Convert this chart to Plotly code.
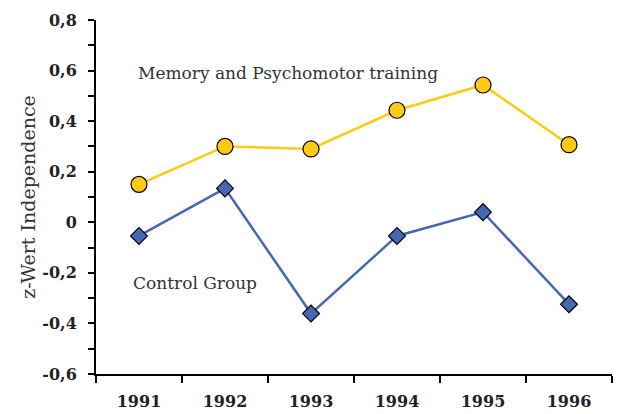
import plotly.graph_objects as go

# Survey years and mean z-scores per group
years = ["1991", "1992", "1993", "1994", "1995", "1996"]
training = [0.15, 0.30, 0.29, 0.443, 0.543, 0.307]
control = [-0.054, 0.134, -0.361, -0.054, 0.040, -0.324]

# Y-axis ticks with comma decimals
y_tick_vals = [-0.6, -0.4, -0.2, 0.0, 0.2, 0.4, 0.6, 0.8]
y_tick_text = ["-0,6", "-0,4", "-0,2", "0", "0,2", "0,4", "0,6", "0,8"]

SERIF = "DejaVu Serif"
YELLOW = "#FCCB12"
BLUE = "#4667B2"

fig = go.Figure()

fig.add_trace(go.Scatter(
    x=years, y=training, mode="lines+markers",
    line=dict(color=YELLOW, width=2.5),
    marker=dict(symbol="circle", size=16, color=YELLOW,
                line=dict(color="#000000", width=1.2)),
    showlegend=False,
))

fig.add_trace(go.Scatter(
    x=years, y=control, mode="lines+markers",
    line=dict(color=BLUE, width=2.5),
    marker=dict(symbol="diamond", size=13, color=BLUE,
                line=dict(color="#000000", width=1.2)),
    showlegend=False,
))

fig.add_annotation(
    x=-0.03, y=0.589, xref="x", yref="y", xanchor="left", yanchor="middle",
    text="Memory and Psychomotor training", showarrow=False,
    font=dict(family=SERIF, size=17, color="#333333"),
)
fig.add_annotation(
    x=-0.09, y=-0.241, xref="x", yref="y", xanchor="left", yanchor="middle",
    text="Control Group", showarrow=False,
    font=dict(family=SERIF, size=17, color="#333333"),
)

fig.update_layout(
    width=624, height=414,
    margin=dict(l=96, r=12, t=20, b=40),
    paper_bgcolor="white", plot_bgcolor="white",
    font=dict(family=SERIF, color="#222222"),
)

fig.update_xaxes(
    type="category", range=[-0.5, 5.5], automargin=False,
    showline=True, linecolor="#000000", linewidth=2,
    ticks="outside", tickson="boundaries", ticklen=7, tickwidth=2,
    tickcolor="#000000", showgrid=False, zeroline=False,
    tickfont=dict(family=SERIF, size=16, color="#222222", weight="bold"),
    ticklabelstandoff=12,
)

fig.update_yaxes(
    range=[-0.6, 0.8], automargin=False,
    tickvals=y_tick_vals, ticktext=y_tick_text,
    showline=True, linecolor="#000000", linewidth=2,
    ticks="outside", ticklen=6, tickwidth=2, tickcolor="#000000",
    minor=dict(ticks="outside", dtick=0.1, ticklen=6, tickwidth=2,
               tickcolor="#000000", showgrid=False),
    showgrid=False, zeroline=False,
    tickfont=dict(family=SERIF, size=16, color="#222222", weight="bold"),
    ticklabelstandoff=8,
    title=dict(text="z-Wert Independence", standoff=2,
               font=dict(family=SERIF, size=19, color="#333333")),
)

fig.write_html("out.html")
